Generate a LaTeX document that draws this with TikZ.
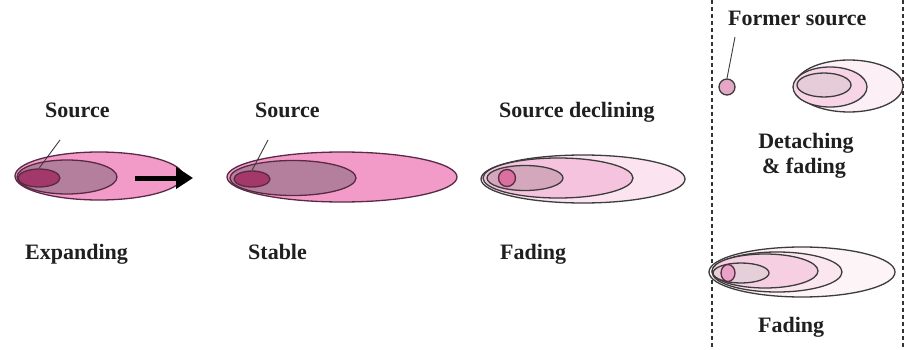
\documentclass[tikz,border=0pt]{standalone}
\usepackage{fontspec}
\setmainfont{Liberation Serif}
\usetikzlibrary{shapes.geometric,arrows.meta}
\definecolor{pkA}{HTML}{F39BC8}
\definecolor{mvA}{HTML}{B47F9C}
\definecolor{dkA}{HTML}{A3386A}
\definecolor{lnA}{HTML}{5A2A45}
\definecolor{lnB}{HTML}{3C3C3C}
\definecolor{f3a}{HTML}{FBE3EF}
\definecolor{f3b}{HTML}{F5C3DD}
\definecolor{f3c}{HTML}{D4A7BD}
\definecolor{f3d}{HTML}{D9709F}
\definecolor{f4a}{HTML}{FCEFF5}
\definecolor{f4b}{HTML}{F7D5E6}
\definecolor{f4c}{HTML}{E6CCD8}
\definecolor{f4s}{HTML}{E6A7C6}
\definecolor{f5a}{HTML}{FDF4F8}
\definecolor{f5b}{HTML}{FBE6F0}
\definecolor{f5c}{HTML}{F6CFE2}
\definecolor{f5d}{HTML}{E5CFD9}
\definecolor{f5s}{HTML}{E9A3C6}
\begin{document}
\begin{tikzpicture}[x=1pt,y=-1pt,
  lbl/.style={font=\fontsize{22}{25}\selectfont\bfseries, inner sep=0pt, anchor=base west, text=black!88},
  clbl/.style={font=\fontsize{22}{25}\selectfont\bfseries, inner sep=0pt, anchor=base, text=black!88},
  el/.style n args={4}{ellipse, inner sep=0pt, minimum width=#1pt, minimum height=#2pt, fill=#3, draw=#4, line width=1.3pt},
  leader/.style={draw=lnB, line width=0.9pt},
  sep/.style={draw=black!80, line width=1.1pt, dash pattern=on 4pt off 3pt}]
\useasboundingbox (0,0) rectangle (910,350);
\fill[white] (0,0) rectangle (910,350);

% ---------- Panel 1: Expanding ----------
\node[el={168}{48}{pkA}{lnA}] (e1o) at (99,176) {};
\node[el={100}{34}{mvA}{lnA}] (e1m) at (67,177) {};
\node[el={42}{18}{dkA}{lnA}] (e1i) at (39,178) {};
\coordinate (a1s) at (135,178);
\coordinate (a1e) at (193,178);
\draw[line width=5pt, -{Triangle[length=17pt,width=21pt]}] (a1s) -- (a1e);
\node[lbl] (s1) at (45,118) {Source};
\coordinate (l1a) at (60,140);
\draw[leader] (l1a) -- (e1i.north);
\node[lbl] (t1) at (25,259) {Expanding};

% ---------- Panel 2: Stable ----------
\node[el={230}{50}{pkA}{lnA}] (e2o) at (342,177) {};
\node[el={126}{35}{mvA}{lnA}] (e2m) at (293,178) {};
\node[el={36}{16}{dkA}{lnA}] (e2i) at (252,179) {};
\node[lbl] (s2) at (255,118) {Source};
\coordinate (l2a) at (268,140);
\draw[leader] (l2a) -- (e2i.north);
\node[lbl] (t2) at (248,259) {Stable};

% ---------- Panel 3: Fading ----------
\node[el={204}{48}{f3a}{lnB}] (e3o) at (583,179) {};
\node[el={150}{40}{f3b}{lnB}] (e3m) at (558,178) {};
\node[el={76}{25}{f3c}{lnB}] (e3i) at (525,178) {};
\node[el={17}{17}{f3d}{lnA}] (e3s) at (507,178) {};
\node[lbl] (s3) at (499,118) {Source declining};
\node[lbl] (t3) at (500,259) {Fading};

% ---------- Panel 4: right column ----------
\coordinate (d1t) at (712,0);
\coordinate (d1b) at (712,350);
\coordinate (d2t) at (903,0);
\coordinate (d2b) at (903,350);
\draw[sep] (d1t) -- (d1b);
\draw[sep] (d2t) -- (d2b);

\node[lbl] (fs) at (728,26) {Former source};
\node[el={16}{16}{f4s}{lnB}] (fsc) at (727,87) {};
\coordinate (l3a) at (735,37);
\draw[leader] (l3a) -- (fsc.north);

\node[el={108}{52}{f4a}{lnB}] (e4o) at (849,86) {};
\node[el={74}{40}{f4b}{lnB}] (e4m) at (830,87) {};
\node[el={54}{24}{f4c}{lnB}] (e4i) at (824,85) {};
\node[clbl] (dt1) at (806,149) {Detaching};
\node[clbl] (dt2) at (804,173) {\& fading};

\node[el={186}{50}{f5a}{lnB}] (e5o) at (802,272) {};
\node[el={130}{40}{f5b}{lnB}] (e5m) at (777,272) {};
\node[el={106}{34}{f5c}{lnB}] (e5n) at (765,271) {};
\node[el={56}{20}{f5d}{lnB}] (e5i) at (741,273) {};
\node[el={14}{17}{f5s}{lnA}] (e5s) at (728,273) {};
\node[lbl] (t4) at (758,332) {Fading};
\end{tikzpicture}
\end{document}
